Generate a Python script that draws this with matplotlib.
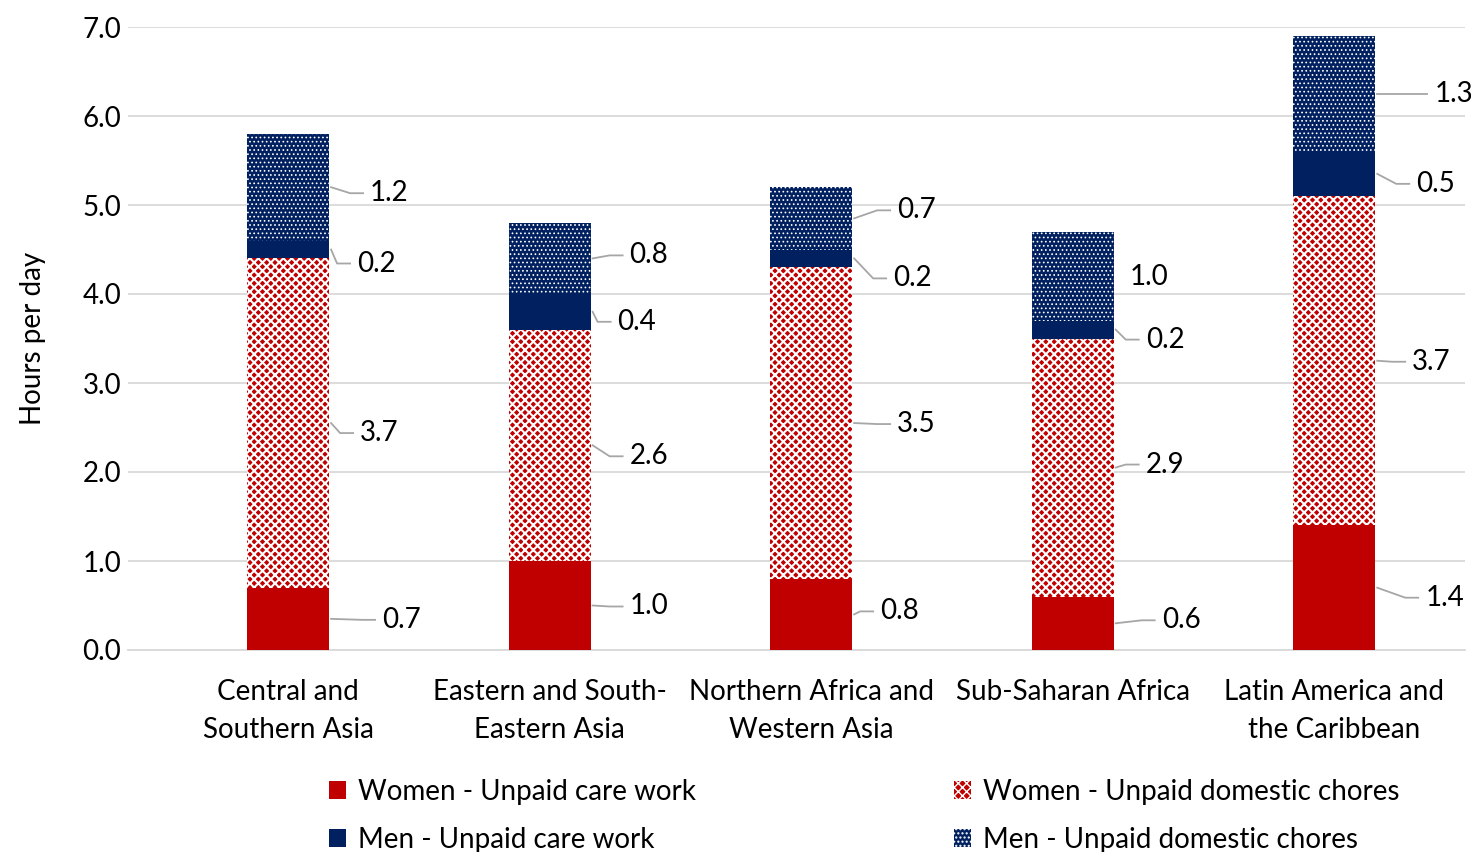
import matplotlib
matplotlib.use("Agg")
import matplotlib.pyplot as plt
import numpy as np

plt.rcParams['font.family'] = ['Lato', 'DejaVu Sans']

regions = ["Central and\nSouthern Asia", "Eastern and South-\nEastern Asia",
           "Northern Africa and\nWestern Asia", "Sub-Saharan Africa",
           "Latin America and\nthe Caribbean"]
women_care = [0.7, 1.0, 0.8, 0.6, 1.4]
women_chores = [3.7, 2.6, 3.5, 2.9, 3.7]
men_care = [0.2, 0.4, 0.2, 0.2, 0.5]
men_chores = [1.2, 0.8, 0.7, 1.0, 1.3]

# name, values, colour, hatch, hatch linewidth
series = [
    ("Women - Unpaid care work", women_care, "#c00000", None, 1.0),
    ("Women - Unpaid domestic chores", women_chores, "#c00000", "xxxx", 1.5),
    ("Men - Unpaid care work", men_care, "#002060", None, 1.0),
    ("Men - Unpaid domestic chores", men_chores, "#002060", "....", 0.7),
]

# label offsets (pixels) from bar right edge / segment centre, per series then region
label_dx = [[53, 39, 28, 48, 50], [31, 39, 45, 32, 37],
            [28, 27, 41, 32, 41], [41, 39, 45, 16, 59]]
label_dy = [[-1, -1, 3, 3, -10], [-10, -11, -1, 3, -1],
            [-14, -10, -20, -10, -10], [-6, 3, 8, -1, 0]]

FS = 20

fig = plt.figure(figsize=(14.71, 8.52), dpi=100)
ax = fig.add_axes([128 / 1471, 202 / 852, (1465 - 128) / 1471, 623 / 852])

x = np.arange(len(regions))
width = 82 / 261.5
px_x = 1 / 261.5
px_y = 1 / 89

bottom = np.zeros(len(regions))
handles = []
for si, (name, vals, col, hatch, hlw) in enumerate(series):
    vals = np.array(vals)
    with plt.rc_context({'hatch.linewidth': hlw}):
        if hatch:
            b = ax.bar(x, vals, width, bottom=bottom, color=col, edgecolor="white",
                       linewidth=0, hatch=hatch, label=name, zorder=3)
        else:
            b = ax.bar(x, vals, width, bottom=bottom, color=col, linewidth=0,
                       label=name, zorder=3)
    handles.append(b)
    for i in range(len(regions)):
        cy = bottom[i] + vals[i] / 2
        ex = x[i] + width / 2
        lx = ex + label_dx[si][i] * px_x
        ly = cy + label_dy[si][i] * px_y
        ax.text(lx, ly, f"{vals[i]:.1f}", ha="left", va="center", fontsize=FS,
                color="#000000", zorder=5)
        if label_dx[si][i] > 20:
            end = lx - 7 * px_x
            mid = max(end - 13 * px_x, ex + 3 * px_x)
            ax.plot([ex + 2 * px_x, mid, end], [cy, ly, ly], color="#a6a6a6",
                    lw=1.3, zorder=4, clip_on=False)
    bottom = bottom + vals

ax.set_xlim(-0.612, 4.50)
ax.set_ylim(0, 7.0)
ax.set_yticks(np.arange(0, 7.01, 1.0))
ax.set_yticklabels([f"{v:.1f}" for v in np.arange(0, 7.01, 1.0)], fontsize=FS)
ax.set_xticks(x)
ax.set_xticklabels(regions, fontsize=FS, linespacing=1.55)
ax.tick_params(axis="x", length=0, pad=21)
ax.tick_params(axis="y", length=0, pad=5)
ax.grid(axis="y", color="#d9d9d9", lw=1.3, zorder=0)
for s in ["top", "right", "left"]:
    ax.spines[s].set_visible(False)
ax.spines["bottom"].set_color("#d9d9d9")
ax.spines["bottom"].set_linewidth(1.3)
ax.set_ylabel("Hours per day", fontsize=FS, labelpad=26)

# two legend columns placed separately
leg_kw = dict(loc="upper left", frameon=False, fontsize=FS, handlelength=0.6,
              handleheight=0.6, handletextpad=0.45, labelspacing=0.78,
              borderpad=0, borderaxespad=0)
leg1 = fig.legend(handles=[handles[0], handles[2]],
                  labels=[series[0][0], series[2][0]],
                  bbox_to_anchor=(329 / 1471, 1 - 779 / 852), **leg_kw)
leg2 = fig.legend(handles=[handles[1], handles[3]],
                  labels=[series[1][0], series[3][0]],
                  bbox_to_anchor=(954 / 1471, 1 - 779 / 852), **leg_kw)

fig.savefig("out.png", dpi=100)
